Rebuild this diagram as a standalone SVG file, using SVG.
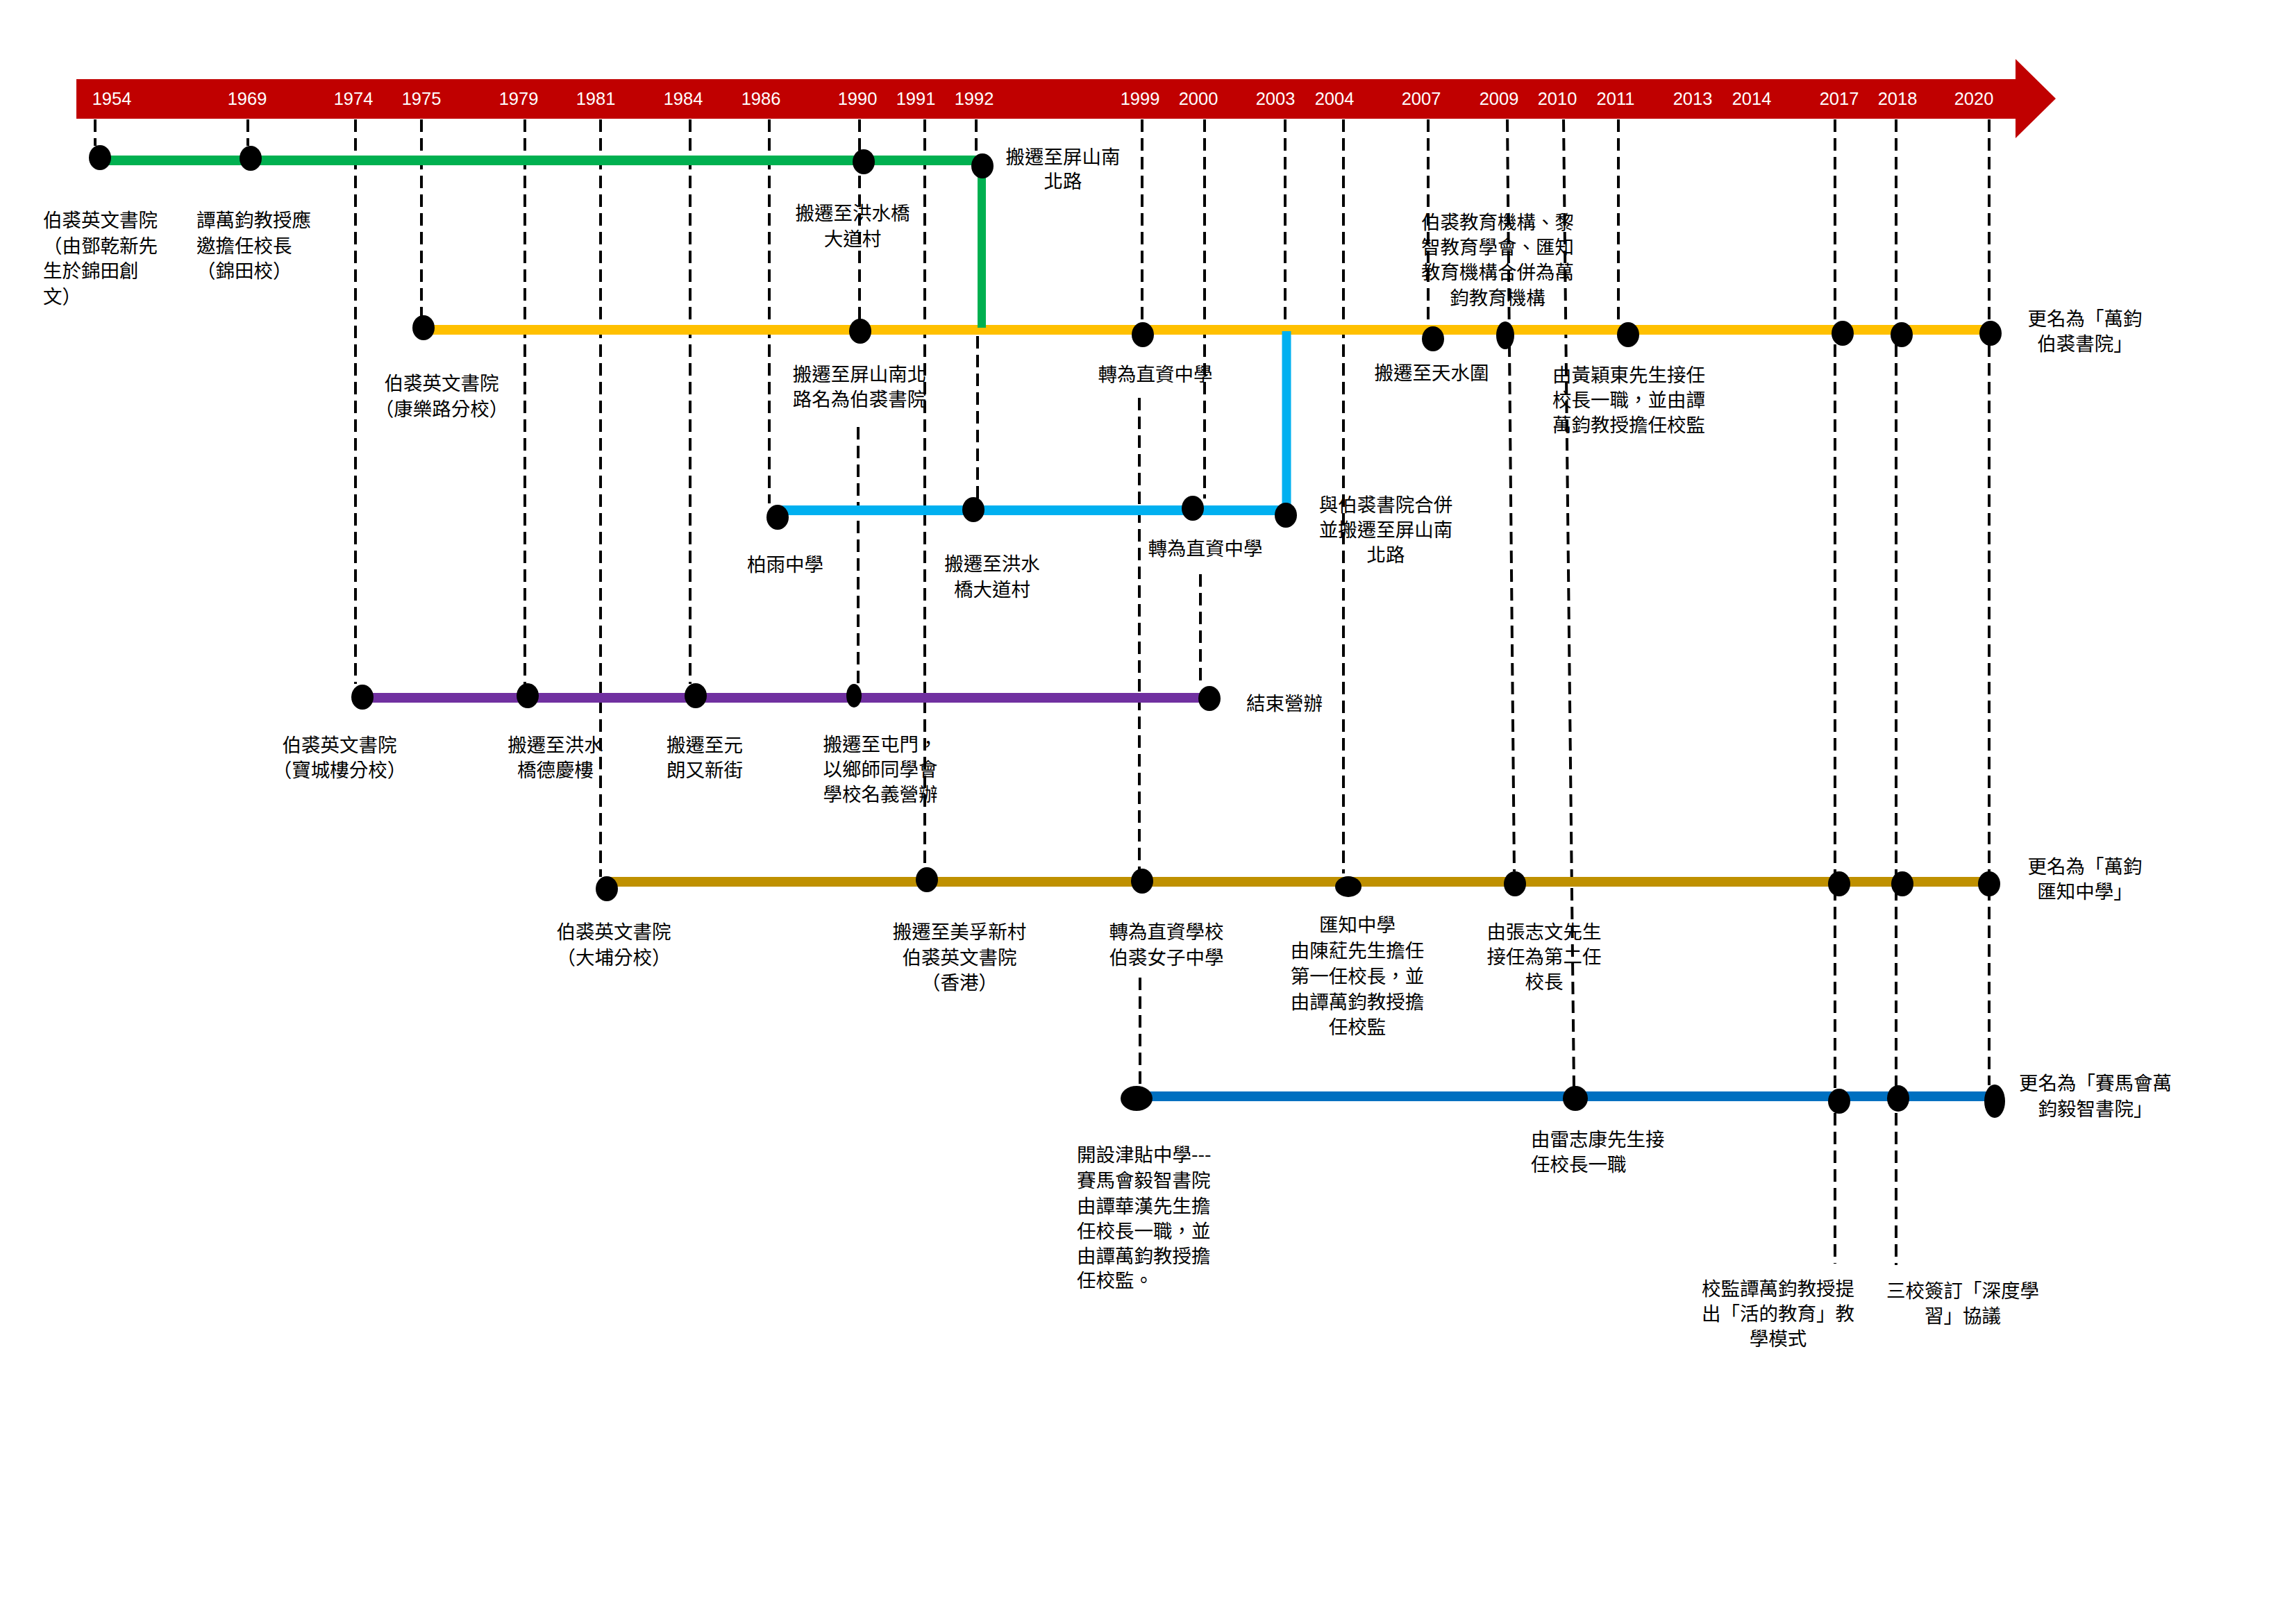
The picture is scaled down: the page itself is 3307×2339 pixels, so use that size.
<svg xmlns="http://www.w3.org/2000/svg" width="3307" height="2339" viewBox="0 0 3307 2339">
<style>
.yr{font-family:"Liberation Sans",Arial,sans-serif;font-size:25.5px;fill:#fff;text-anchor:middle}
.t{font-family:"Noto Sans CJK TC","Noto Sans CJK SC",sans-serif;font-size:27.5px;fill:#000}
.c{text-anchor:middle}
.dash{stroke:#000;stroke-width:4;stroke-dasharray:18 9;fill:none}
.dot{fill:#000}
.trk{stroke-width:14;fill:none}
</style>
<rect width="3307" height="2339" fill="#fff"/>
<g id="connectors">
<path class="dash" d="M137 172V210M357 172V210M512 172V985M607 172V455M756 172V985M865 172V1263M994 172V985M1108 172V725M1238 172V460M1236 615V985M1332 172V1250M1406 172V225M1408 484V718M1645 172V465M1641 573V1252M1642 1408V1563M1735 172V718M1729 827V988M1851 172V470M1935 172V1258M2057 172V470M2171 172L2181 1255M2252 172L2267 1565M2331 172V465M2643 172V1820M2731 172V1822M2865 172V1563"/>
</g>
<g id="timeline-bar">
<path d="M110 114H2903V85L2961 142L2903 199V171H110Z" fill="#C00000"/>
<text class="yr" y="151"><tspan x="161">1954</tspan><tspan x="356">1969</tspan><tspan x="509">1974</tspan><tspan x="607">1975</tspan><tspan x="747">1979</tspan><tspan x="858">1981</tspan><tspan x="984">1984</tspan><tspan x="1096">1986</tspan><tspan x="1235">1990</tspan><tspan x="1319">1991</tspan><tspan x="1403">1992</tspan><tspan x="1642">1999</tspan><tspan x="1726">2000</tspan><tspan x="1837">2003</tspan><tspan x="1922">2004</tspan><tspan x="2047">2007</tspan><tspan x="2159">2009</tspan><tspan x="2243">2010</tspan><tspan x="2327">2011</tspan><tspan x="2438">2013</tspan><tspan x="2523">2014</tspan><tspan x="2649">2017</tspan><tspan x="2733">2018</tspan><tspan x="2843">2020</tspan></text>
</g>
<g id="tracks">
<path class="trk" stroke="#FFC000" d="M610 475H2867"/>
<path class="trk" stroke="#00B050" d="M144 231H1415"/>
<path stroke="#00B050" stroke-width="12" d="M1414 239V472"/>
<path class="trk" stroke="#00B0F0" d="M1120 735H1852"/>
<path stroke="#00B0F0" stroke-width="13" d="M1853 477V737"/>
<path class="trk" stroke="#7030A0" d="M522 1005H1742"/>
<path class="trk" stroke="#BF9000" d="M874 1270H2865"/>
<path class="trk" stroke="#0070C0" d="M1637 1579H2873"/>
</g>
<g id="n1954"><ellipse class="dot" cx="144" cy="227" rx="16" ry="18"/>
<text class="t" x="62"><tspan x="62" y="327">伯裘英文書院</tspan><tspan x="62" y="364">（由鄧乾新先</tspan><tspan x="62" y="400">生於錦田創</tspan><tspan x="62" y="437">文）</tspan></text></g>
<g id="n1969"><ellipse class="dot" cx="361" cy="228" rx="16" ry="18"/>
<text class="t"><tspan x="283" y="327">譚萬鈞教授應</tspan><tspan x="283" y="364">邀擔任校長</tspan><tspan x="283" y="400">（錦田校）</tspan></text></g>
<g id="n1990-green"><ellipse class="dot" cx="1244" cy="233" rx="16" ry="18"/>
<text class="t c"><tspan x="1228" y="317">搬遷至洪水橋</tspan><tspan x="1228" y="354">大道村</tspan></text></g>
<g id="n1992-green"><ellipse class="dot" cx="1415" cy="239" rx="16" ry="18"/>
<text class="t c"><tspan x="1531" y="236">搬遷至屏山南</tspan><tspan x="1531" y="271">北路</tspan></text></g>
<g id="n1975"><ellipse class="dot" cx="610" cy="472" rx="16" ry="18"/>
<text class="t c"><tspan x="636" y="562">伯裘英文書院</tspan><tspan x="636" y="599">（康樂路分校）</tspan></text></g>
<g id="n1990-yellow"><ellipse class="dot" cx="1239" cy="477" rx="16" ry="18"/>
<text class="t c"><tspan x="1238" y="549">搬遷至屏山南北</tspan><tspan x="1238" y="585">路名為伯裘書院</tspan></text></g>
<g id="n1999-yellow"><ellipse class="dot" cx="1646" cy="482" rx="16" ry="18"/>
<text class="t c" x="1664" y="549">轉為直資中學</text></g>
<g id="n2007"><ellipse class="dot" cx="2064" cy="488" rx="16" ry="18"/>
<text class="t c" x="2062" y="547">搬遷至天水圍</text></g>
<g id="n2009-yellow"><ellipse class="dot" cx="2168" cy="483" rx="13" ry="20"/>
<text class="t c"><tspan x="2157" y="330">伯裘教育機構、黎</tspan><tspan x="2157" y="366">智教育學會、匯知</tspan><tspan x="2157" y="402">教育機構合併為萬</tspan><tspan x="2157" y="439">鈞教育機構</tspan></text></g>
<g id="n2011"><ellipse class="dot" cx="2345" cy="482" rx="16" ry="18"/>
<text class="t c"><tspan x="2346" y="550">由黃穎東先生接任</tspan><tspan x="2346" y="586">校長一職，並由譚</tspan><tspan x="2346" y="622">萬鈞教授擔任校監</tspan></text></g>
<g id="n2017-yellow"><ellipse class="dot" cx="2654" cy="480" rx="16" ry="18"/></g>
<g id="n2018-yellow"><ellipse class="dot" cx="2739" cy="482" rx="16" ry="18"/></g>
<g id="n2020-yellow"><ellipse class="dot" cx="2867" cy="480" rx="16" ry="18"/>
<text class="t c"><tspan x="3003" y="469">更名為「萬鈞</tspan><tspan x="3003" y="505">伯裘書院」</tspan></text></g>
<g id="n1986"><ellipse class="dot" cx="1120" cy="745" rx="16" ry="18"/>
<text class="t c" x="1131" y="823">柏雨中學</text></g>
<g id="n1992-blue"><ellipse class="dot" cx="1402" cy="734" rx="16" ry="18"/>
<text class="t c"><tspan x="1429" y="822">搬遷至洪水</tspan><tspan x="1429" y="859">橋大道村</tspan></text></g>
<g id="n2000-blue"><ellipse class="dot" cx="1718" cy="732" rx="16" ry="18"/>
<text class="t c" x="1736" y="800">轉為直資中學</text></g>
<g id="n2003"><ellipse class="dot" cx="1852" cy="742" rx="16" ry="18"/>
<text class="t c"><tspan x="1996" y="737">與伯裘書院合併</tspan><tspan x="1996" y="773">並搬遷至屏山南</tspan><tspan x="1996" y="809">北路</tspan></text></g>
<g id="n1974"><ellipse class="dot" cx="522" cy="1004" rx="16" ry="18"/>
<text class="t c"><tspan x="489" y="1083">伯裘英文書院</tspan><tspan x="489" y="1119">（寶城樓分校）</tspan></text></g>
<g id="n1979"><ellipse class="dot" cx="760" cy="1002" rx="16" ry="18"/>
<text class="t c"><tspan x="800" y="1083">搬遷至洪水</tspan><tspan x="800" y="1119">橋德慶樓</tspan></text></g>
<g id="n1984"><ellipse class="dot" cx="1002" cy="1002" rx="16" ry="18"/>
<text class="t c"><tspan x="1015" y="1083">搬遷至元</tspan><tspan x="1015" y="1119">朗又新街</tspan></text></g>
<g id="n1990-purple"><ellipse class="dot" cx="1230" cy="1002" rx="11" ry="17"/>
<text class="t c"><tspan x="1268" y="1082">搬遷至屯門，</tspan><tspan x="1268" y="1118">以鄉師同學會</tspan><tspan x="1268" y="1154">學校名義營辦</tspan></text></g>
<g id="n2000-purple"><ellipse class="dot" cx="1742" cy="1006" rx="16" ry="18"/>
<text class="t c" x="1850" y="1023">結束營辦</text></g>
<g id="n1981"><ellipse class="dot" cx="874" cy="1280" rx="16" ry="18"/>
<text class="t c"><tspan x="884" y="1352">伯裘英文書院</tspan><tspan x="884" y="1389">（大埔分校）</tspan></text></g>
<g id="n1991"><ellipse class="dot" cx="1335" cy="1267" rx="16" ry="18"/>
<text class="t c"><tspan x="1382" y="1352">搬遷至美孚新村</tspan><tspan x="1382" y="1389">伯裘英文書院</tspan><tspan x="1382" y="1425">（香港）</tspan></text></g>
<g id="n1999-taipo"><ellipse class="dot" cx="1645" cy="1269" rx="16" ry="18"/>
<text class="t c"><tspan x="1680" y="1352">轉為直資學校</tspan><tspan x="1680" y="1389">伯裘女子中學</tspan></text></g>
<g id="n2004"><ellipse class="dot" cx="1942" cy="1277" rx="19" ry="15"/>
<text class="t c"><tspan x="1955" y="1342">匯知中學</tspan><tspan x="1955" y="1379">由陳葒先生擔任</tspan><tspan x="1955" y="1416">第一任校長，並</tspan><tspan x="1955" y="1453">由譚萬鈞教授擔</tspan><tspan x="1955" y="1489">任校監</tspan></text></g>
<g id="n2009-taipo"><ellipse class="dot" cx="2182" cy="1273" rx="16" ry="18"/>
<text class="t c"><tspan x="2224" y="1352">由張志文先生</tspan><tspan x="2224" y="1388">接任為第二任</tspan><tspan x="2224" y="1424">校長</tspan></text></g>
<g id="n2017-taipo"><ellipse class="dot" cx="2649" cy="1273" rx="16" ry="18"/></g>
<g id="n2018-taipo"><ellipse class="dot" cx="2740" cy="1273" rx="16" ry="18"/></g>
<g id="n2020-taipo"><ellipse class="dot" cx="2865" cy="1273" rx="16" ry="18"/>
<text class="t c"><tspan x="3003" y="1258">更名為「萬鈞</tspan><tspan x="3003" y="1294">匯知中學」</tspan></text></g>
<g id="n1999-darkblue"><ellipse class="dot" cx="1637" cy="1582" rx="23" ry="18"/>
<text class="t"><tspan x="1551" y="1673">開設津貼中學---</tspan><tspan x="1551" y="1710">賽馬會毅智書院</tspan><tspan x="1551" y="1747">由譚華漢先生擔</tspan><tspan x="1551" y="1783">任校長一職，並</tspan><tspan x="1551" y="1819">由譚萬鈞教授擔</tspan><tspan x="1551" y="1854">任校監。</tspan></text></g>
<g id="n2010"><ellipse class="dot" cx="2269" cy="1582" rx="18" ry="18"/>
<text class="t"><tspan x="2205" y="1651">由雷志康先生接</tspan><tspan x="2205" y="1687">任校長一職</tspan></text></g>
<g id="n2017-darkblue"><ellipse class="dot" cx="2649" cy="1586" rx="16" ry="18"/>
<text class="t c"><tspan x="2561" y="1866">校監譚萬鈞教授提</tspan><tspan x="2561" y="1902">出「活的教育」教</tspan><tspan x="2561" y="1938">學模式</tspan></text></g>
<g id="n2018-darkblue"><ellipse class="dot" cx="2734" cy="1582" rx="16" ry="19"/>
<text class="t c"><tspan x="2827" y="1869">三校簽訂「深度學</tspan><tspan x="2827" y="1905">習」協議</tspan></text></g>
<g id="n2020-darkblue"><ellipse class="dot" cx="2873" cy="1586" rx="15" ry="24"/>
<text class="t c"><tspan x="3018" y="1570">更名為「賽馬會萬</tspan><tspan x="3018" y="1607">鈞毅智書院」</tspan></text></g>
</svg>
